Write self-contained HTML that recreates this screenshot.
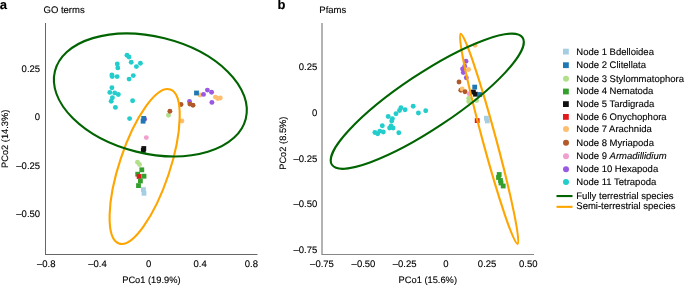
<!DOCTYPE html>
<html><head><meta charset="utf-8"><style>
html,body{margin:0;padding:0;background:#fff;}
svg{display:block;filter:grayscale(0.0001);}
text{text-rendering:geometricPrecision;font-family:"Liberation Sans",sans-serif;font-size:9.5px;fill:#000;stroke:#000;stroke-width:0.12px;}
.lab{font-weight:bold;font-size:13px;fill:#000;}
</style></head><body>
<svg width="685" height="285" viewBox="0 0 685 285">
<rect width="685" height="285" fill="#fff"/>
<text class="lab" x="-0.3" y="8.7">a</text>
<text class="lab" x="277.4" y="8.7">b</text>
<rect x="45" y="23" width="1" height="232" fill="#666"/>
<rect x="45" y="254" width="212.5" height="1" fill="#666"/>
<rect x="321" y="23" width="2" height="232" fill="#b3b3b3"/>
<rect x="322" y="254" width="212" height="1" fill="#878787"/>
<circle cx="127" cy="55.3" r="2.45" fill="#22cdcc"/>
<circle cx="129" cy="57" r="2.45" fill="#22cdcc"/>
<circle cx="131.2" cy="62.3" r="2.45" fill="#22cdcc"/>
<circle cx="136.4" cy="66.6" r="2.45" fill="#22cdcc"/>
<circle cx="140.4" cy="63.2" r="2.45" fill="#22cdcc"/>
<circle cx="117.3" cy="64" r="2.45" fill="#22cdcc"/>
<circle cx="117.8" cy="67.9" r="2.45" fill="#22cdcc"/>
<circle cx="111.9" cy="74.9" r="2.45" fill="#22cdcc"/>
<circle cx="112.2" cy="76.6" r="2.45" fill="#22cdcc"/>
<circle cx="117.1" cy="76.6" r="2.45" fill="#22cdcc"/>
<circle cx="133.3" cy="75.6" r="2.45" fill="#22cdcc"/>
<circle cx="129.1" cy="79.1" r="2.45" fill="#22cdcc"/>
<circle cx="111.9" cy="87.7" r="2.45" fill="#22cdcc"/>
<circle cx="109.8" cy="92.4" r="2.45" fill="#22cdcc"/>
<circle cx="114.7" cy="92.9" r="2.45" fill="#22cdcc"/>
<circle cx="118.3" cy="94.5" r="2.45" fill="#22cdcc"/>
<circle cx="112.4" cy="97.8" r="2.45" fill="#22cdcc"/>
<circle cx="111.2" cy="101.3" r="2.45" fill="#22cdcc"/>
<circle cx="115.4" cy="107.4" r="2.45" fill="#22cdcc"/>
<circle cx="132.6" cy="100.8" r="2.45" fill="#22cdcc"/>
<circle cx="129.6" cy="118.6" r="2.45" fill="#22cdcc"/>
<circle cx="144.6" cy="119.2" r="2.45" fill="#9a58e3"/>
<rect x="141.30" y="116.00" width="4.8" height="4.8" fill="#1f78b4"/>
<rect x="140.70" y="118.80" width="4.8" height="4.8" fill="#1f78b4"/>
<circle cx="146.3" cy="137.6" r="2.45" fill="#f09fcf"/>
<rect x="141.40" y="146.10" width="4.8" height="4.8" fill="#111111"/>
<rect x="140.90" y="148.00" width="4.8" height="4.8" fill="#111111"/>
<circle cx="137.5" cy="162.3" r="2.45" fill="#b2df8a"/>
<circle cx="139.5" cy="164.5" r="2.45" fill="#b2df8a"/>
<rect x="139.40" y="167.40" width="4.8" height="4.8" fill="#33a02c"/>
<rect x="135.30" y="171.80" width="4.8" height="4.8" fill="#33a02c"/>
<rect x="141.60" y="173.80" width="4.8" height="4.8" fill="#33a02c"/>
<rect x="136.70" y="174.10" width="4.8" height="4.8" fill="#e31a1c"/>
<rect x="138.00" y="178.60" width="4.8" height="4.8" fill="#33a02c"/>
<rect x="136.10" y="183.20" width="4.8" height="4.8" fill="#33a02c"/>
<rect x="141.00" y="187.20" width="4.8" height="4.8" fill="#a6cee3"/>
<rect x="141.60" y="190.90" width="4.8" height="4.8" fill="#a6cee3"/>
<circle cx="200" cy="95" r="2.45" fill="#fdbf6f"/>
<rect x="194.10" y="90.60" width="4.8" height="4.8" fill="#1f78b4"/>
<circle cx="203.5" cy="94.4" r="2.45" fill="#9a58e3"/>
<circle cx="207.4" cy="90.1" r="2.45" fill="#9a58e3"/>
<circle cx="211.6" cy="92.3" r="2.45" fill="#9a58e3"/>
<circle cx="211.9" cy="102.4" r="2.45" fill="#9a58e3"/>
<circle cx="215.4" cy="97.1" r="2.45" fill="#fdbf6f"/>
<circle cx="217.8" cy="98.5" r="2.45" fill="#fdbf6f"/>
<circle cx="220.3" cy="98" r="2.45" fill="#fdbf6f"/>
<circle cx="189.5" cy="101.5" r="2.45" fill="#9a58e3"/>
<circle cx="189.9" cy="104.1" r="2.45" fill="#b15928"/>
<circle cx="193" cy="105.2" r="2.45" fill="#b15928"/>
<circle cx="181" cy="104.5" r="2.45" fill="#b15928"/>
<circle cx="168.5" cy="115.2" r="2.45" fill="#b2df8a"/>
<circle cx="169.9" cy="111.2" r="2.45" fill="#b15928"/>
<circle cx="181.9" cy="121" r="2.45" fill="#fdbf6f"/>
<circle cx="400.9" cy="107.7" r="2.45" fill="#22cdcc"/>
<circle cx="399.5" cy="110.5" r="2.45" fill="#22cdcc"/>
<circle cx="405.1" cy="109.8" r="2.45" fill="#22cdcc"/>
<circle cx="396" cy="113.7" r="2.45" fill="#22cdcc"/>
<circle cx="413.2" cy="106.3" r="2.45" fill="#22cdcc"/>
<circle cx="418.4" cy="113" r="2.45" fill="#22cdcc"/>
<circle cx="425.7" cy="110.8" r="2.45" fill="#22cdcc"/>
<circle cx="388.2" cy="116.5" r="2.45" fill="#22cdcc"/>
<circle cx="392.4" cy="118.7" r="2.45" fill="#22cdcc"/>
<circle cx="391.7" cy="121" r="2.45" fill="#22cdcc"/>
<circle cx="382.3" cy="125.7" r="2.45" fill="#22cdcc"/>
<circle cx="391" cy="126" r="2.45" fill="#22cdcc"/>
<circle cx="389.6" cy="128" r="2.45" fill="#22cdcc"/>
<circle cx="393.1" cy="128" r="2.45" fill="#22cdcc"/>
<circle cx="398.8" cy="132.7" r="2.45" fill="#22cdcc"/>
<circle cx="374.9" cy="132.5" r="2.45" fill="#22cdcc"/>
<circle cx="377.7" cy="133.7" r="2.45" fill="#22cdcc"/>
<circle cx="379.8" cy="131.1" r="2.45" fill="#22cdcc"/>
<circle cx="383.3" cy="132" r="2.45" fill="#22cdcc"/>
<circle cx="475.1" cy="45.3" r="2.45" fill="#fdbf6f"/>
<circle cx="466" cy="61.2" r="2.45" fill="#9a58e3"/>
<circle cx="464.7" cy="66.2" r="2.45" fill="#9a58e3"/>
<circle cx="462.6" cy="69" r="2.45" fill="#9a58e3"/>
<circle cx="463.3" cy="72.6" r="2.45" fill="#9a58e3"/>
<circle cx="466.3" cy="77.8" r="2.45" fill="#9a58e3"/>
<circle cx="468.6" cy="69.5" r="2.45" fill="#fdbf6f"/>
<circle cx="459" cy="82" r="2.45" fill="#b15928"/>
<circle cx="460.8" cy="90.3" r="2.45" fill="#b15928"/>
<circle cx="462.2" cy="89" r="2.45" fill="#fdbf6f"/>
<circle cx="465" cy="91.7" r="2.45" fill="#b15928"/>
<circle cx="468.7" cy="98.4" r="2.45" fill="#b2df8a"/>
<circle cx="468.7" cy="101.6" r="2.45" fill="#b2df8a"/>
<circle cx="476.6" cy="100.5" r="2.45" fill="#b2df8a"/>
<circle cx="469.2" cy="93.7" r="2.45" fill="#f09fcf"/>
<rect x="472.30" y="84.70" width="4.8" height="4.8" fill="#1f78b4"/>
<rect x="471.00" y="89.70" width="4.8" height="4.8" fill="#111111"/>
<rect x="473.10" y="91.80" width="4.8" height="4.8" fill="#111111"/>
<rect x="477.30" y="92.10" width="4.8" height="4.8" fill="#1f78b4"/>
<rect x="474.80" y="118.20" width="4.8" height="4.8" fill="#e31a1c"/>
<rect x="484.00" y="115.80" width="4.8" height="4.8" fill="#a6cee3"/>
<rect x="484.90" y="118.50" width="4.8" height="4.8" fill="#a6cee3"/>
<rect x="496.80" y="172.10" width="4.8" height="4.8" fill="#33a02c"/>
<rect x="496.10" y="175.10" width="4.8" height="4.8" fill="#33a02c"/>
<rect x="498.10" y="178.10" width="4.8" height="4.8" fill="#33a02c"/>
<rect x="498.60" y="180.60" width="4.8" height="4.8" fill="#33a02c"/>
<rect x="500.80" y="183.60" width="4.8" height="4.8" fill="#33a02c"/>
<ellipse cx="144.65" cy="166.53" rx="25.19" ry="81.16" transform="rotate(18.43 144.65 166.53)" fill="none" stroke="#ffa500" stroke-width="2.1"/>
<ellipse cx="150.35" cy="94.95" rx="98.34" ry="58.38" transform="rotate(13.95 150.35 94.95)" fill="none" stroke="#006400" stroke-width="2.1"/>
<ellipse cx="489.14" cy="138.86" rx="108.77" ry="6.68" transform="rotate(74.85 489.14 138.86)" fill="none" stroke="#ffa500" stroke-width="2.1"/>
<ellipse cx="427.27" cy="101.21" rx="27.34" ry="114.57" transform="rotate(56.3 427.27 101.21)" fill="none" stroke="#006400" stroke-width="2.1"/>
<rect x="563" y="48.70" width="5.8" height="5.8" fill="#a6cee3"/>
<rect x="563" y="62.30" width="5.8" height="5.8" fill="#1f78b4"/>
<circle cx="566" cy="78.70" r="3" fill="#b2df8a"/>
<rect x="563" y="88.60" width="5.8" height="5.8" fill="#33a02c"/>
<rect x="563" y="101.20" width="5.8" height="5.8" fill="#111111"/>
<rect x="563" y="114.00" width="5.8" height="5.8" fill="#e31a1c"/>
<circle cx="566" cy="129.10" r="3" fill="#fdbf6f"/>
<circle cx="566" cy="142.70" r="3" fill="#b15928"/>
<circle cx="566" cy="156.30" r="3" fill="#f09fcf"/>
<circle cx="566" cy="169.20" r="3" fill="#9a58e3"/>
<circle cx="566" cy="182.00" r="3" fill="#22cdcc"/>
<rect x="556.5" y="195" width="16" height="2.1" fill="#006400"/>
<rect x="556.5" y="205.8" width="16" height="2.1" fill="#ffa500"/>
<text x="40.1" y="71.8" text-anchor="end" >0.25</text>
<text x="40.1" y="120.4" text-anchor="end" >0</text>
<text x="40.1" y="169.3" text-anchor="end" >–0.25</text>
<text x="40.1" y="217.3" text-anchor="end" >–0.50</text>
<text x="46.2" y="267" text-anchor="middle" >–0.8</text>
<text x="97.5" y="267" text-anchor="middle" >–0.4</text>
<text x="148.6" y="267" text-anchor="middle" >0</text>
<text x="200.1" y="267" text-anchor="middle" >0.4</text>
<text x="251.4" y="267" text-anchor="middle" >0.8</text>
<text x="151.4" y="282.8" text-anchor="middle" style="font-size:9.3px">PCo1 (19.9%)</text>
<text x="0" y="0" text-anchor="middle" style="font-size:9.3px" transform="translate(8,138.8) rotate(-90)">PCo2 (14.3%)</text>
<text x="43.5" y="13.3" text-anchor="start" >GO terms</text>
<text x="317.3" y="69.7" text-anchor="end" >0.25</text>
<text x="317.3" y="115.5" text-anchor="end" >0</text>
<text x="317.3" y="162.2" text-anchor="end" >–0.25</text>
<text x="317.3" y="207.2" text-anchor="end" >–0.50</text>
<text x="317.3" y="253.1" text-anchor="end" >–0.75</text>
<text x="322" y="266.8" text-anchor="middle" >–0.75</text>
<text x="363.5" y="266.8" text-anchor="middle" >–0.50</text>
<text x="404.7" y="266.8" text-anchor="middle" >–0.25</text>
<text x="445.9" y="266.8" text-anchor="middle" >0</text>
<text x="487.1" y="266.8" text-anchor="middle" >0.25</text>
<text x="528.3" y="266.8" text-anchor="middle" >0.50</text>
<text x="427.8" y="283" text-anchor="middle" style="font-size:9.3px">PCo1 (15.6%)</text>
<text x="0" y="0" text-anchor="middle" style="font-size:9.3px" transform="translate(286,143.2) rotate(-90)">PCo2 (8.5%)</text>
<text x="319.3" y="13" text-anchor="start" >Pfams</text>
<text x="576.3" y="54.5" text-anchor="start" >Node 1 Bdelloidea</text>
<text x="576.3" y="68.1" text-anchor="start" >Node 2 Clitellata</text>
<text x="576.3" y="81.6" text-anchor="start" >Node 3 Stylommatophora</text>
<text x="576.3" y="94.4" text-anchor="start" >Node 4 Nematoda</text>
<text x="576.3" y="107" text-anchor="start" >Node 5 Tardigrada</text>
<text x="576.3" y="119.8" text-anchor="start" >Node 6 Onychophora</text>
<text x="576.3" y="132" text-anchor="start" >Node 7 Arachnida</text>
<text x="576.3" y="145.6" text-anchor="start" >Node 8 Myriapoda</text>
<text x="576.3" y="159.2" text-anchor="start" >Node 9 <tspan font-style="italic">Armadillidium</tspan></text>
<text x="576.3" y="172.1" text-anchor="start" >Node 10 Hexapoda</text>
<text x="576.3" y="184.9" text-anchor="start" >Node 11 Tetrapoda</text>
<text x="576.3" y="198.5" text-anchor="start" >Fully terrestrial species</text>
<text x="576.3" y="209.4" text-anchor="start" >Semi-terrestrial species</text>
</svg>
</body></html>
